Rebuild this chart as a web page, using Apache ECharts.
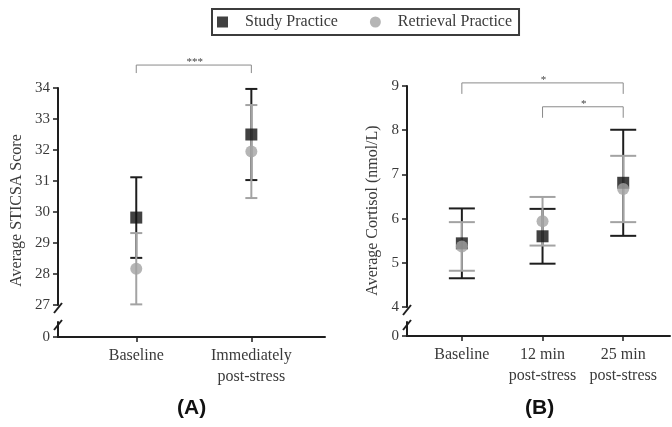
<!DOCTYPE html>
<html>
<head>
<meta charset="utf-8">
<script src="https://cdn.jsdelivr.net/npm/echarts@6/dist/echarts.min.js"></script>
<style>
html,body{margin:0;padding:0;background:#fff;}
#c{width:672px;height:427px;}
</style>
</head>
<body>
<div id="c"></div>
<script>
// ---- Data ----
const catsA = ['Baseline', 'Immediately\npost-stress'];
const studyA = [29.82, 32.50];
const studyErrA = [1.30, 1.47];
const retrA = [28.17, 31.95];
const retrErrA = [1.15, 1.50];
const ticksA = [27, 28, 29, 30, 31, 32, 33, 34];

const catsB = ['Baseline', '12 min\npost-stress', '25 min\npost-stress'];
const studyB = [5.44, 5.60, 6.81];
const studyErrB = [0.79, 0.62, 1.20];
const retrB = [5.37, 5.94, 6.67];
const retrErrB = [0.55, 0.55, 0.75];
const ticksB = [4, 5, 6, 7, 8, 9];

// significance comparisons: [fromIndex, toIndex, label]
const sigA = [[0, 1, '***']];
const sigB = [[0, 2, '*'], [1, 2, '*']];

// ---- Styles ----
const SERIF = 'Liberation Serif';
const DARK = '#1e1e1e';
const GRAY = '#a3a3a3';
const TXT = '#3a3a3a';

const chart = echarts.init(document.getElementById('c'), null, {renderer: 'canvas'});

function errSeries(name, xi, yi, means, errs, color, half, z) {
  return {
    type: 'custom', name: name, xAxisIndex: xi, yAxisIndex: yi, silent: true, clip: false, z: z,
    data: means.map((m, i) => [i, m - errs[i], m + errs[i]]),
    encode: {x: 0, y: [1, 2]},
    renderItem: function (params, api) {
      const x = api.value(0);
      const lo = api.coord([x, api.value(1)]);
      const hi = api.coord([x, api.value(2)]);
      const st = {stroke: color, lineWidth: 2};
      return {type: 'group', children: [
        {type: 'line', shape: {x1: lo[0], y1: lo[1], x2: hi[0], y2: hi[1]}, style: st},
        {type: 'line', shape: {x1: lo[0] - half, y1: lo[1], x2: lo[0] + half, y2: lo[1]}, style: st},
        {type: 'line', shape: {x1: hi[0] - half, y1: hi[1], x2: hi[0] + half, y2: hi[1]}, style: st}
      ]};
    }
  };
}

function sigSeries(xi, yi, sigs, levels, legDrop) {
  return {
    type: 'custom', xAxisIndex: xi, yAxisIndex: yi, silent: true, clip: false, z: 1,
    data: sigs.map((s, k) => [s[0], s[1], levels[k], s[2]]),
    renderItem: function (params, api) {
      const x1 = api.value(0), x2 = api.value(1), lv = api.value(2);
      const label = sigs[params.dataIndex][2];
      const p1 = api.coord([x1, lv]);
      const p2 = api.coord([x2, lv]);
      return {type: 'group', children: [
        {type: 'polyline', shape: {points: [[p1[0], p1[1] + legDrop], [p1[0], p1[1]], [p2[0], p2[1]], [p2[0], p2[1] + legDrop]]},
          style: {stroke: '#8a8a8a', lineWidth: 1, fill: null}},
        {type: 'text', x: (p1[0] + p2[0]) / 2 + 1, y: p1[1] - 3,
          style: {text: label, fill: '#444', font: '11px ' + SERIF, align: 'center', verticalAlign: 'middle'}}
      ]};
    }
  };
}

const yLabel = {color: TXT, fontFamily: SERIF, fontSize: 15, margin: 8};
const axisLineStyle = {color: DARK, width: 2};

function upperY(gi, min, max, ticks, name, gap) {
  return {
    type: 'value', gridIndex: gi, min: min, max: max, interval: 1,
    axisLine: {show: true, onZero: false, lineStyle: axisLineStyle},
    axisTick: {show: true, length: 5, lineStyle: {color: DARK, width: 1.5}, customValues: ticks},
    axisLabel: Object.assign({}, yLabel, {customValues: ticks}),
    splitLine: {show: false},
    name: name, nameLocation: 'middle', nameGap: gap,
    nameTextStyle: {color: TXT, fontFamily: SERIF, fontSize: 16, padding: [0, 28, 0, 0]}
  };
}
function lowerY(gi) {
  return {
    type: 'value', gridIndex: gi, min: 0, max: 1, interval: 1,
    axisLine: {show: true, onZero: false, lineStyle: axisLineStyle},
    axisTick: {show: true, length: 5, lineStyle: {color: DARK, width: 1.5}, customValues: [0]},
    axisLabel: Object.assign({}, yLabel, {customValues: [0]}),
    splitLine: {show: false}
  };
}
function hiddenX(gi, min, max) {
  return {type: 'value', gridIndex: gi, min: min, max: max, show: false, splitLine: {show: false}};
}
function lowerX(gi, min, max, cats) {
  const vals = cats.map((c, i) => i);
  return {
    type: 'value', gridIndex: gi, min: min, max: max,
    axisLine: {show: true, onZero: false, lineStyle: axisLineStyle},
    axisTick: {show: true, length: 5, lineStyle: {color: DARK, width: 1.5}, customValues: vals},
    axisLabel: {customValues: vals, formatter: v => cats[Math.round(v)], color: TXT,
      fontFamily: SERIF, fontSize: 16, lineHeight: 21, margin: 8},
    splitLine: {show: false}
  };
}

const option = {
  animation: false,
  backgroundColor: '#fff',
  legend: {
    left: 212, top: 9,
    data: [{name: 'Study Practice', icon: 'rect'}, {name: 'Retrieval Practice', icon: 'circle'}],
    itemWidth: 11, itemHeight: 11, itemGap: 32,
    padding: [5, 7, 5, 5],
    borderColor: '#3c3c3c', borderWidth: 2,
    textStyle: {color: TXT, fontFamily: SERIF, fontSize: 16, padding: [0, 0, 0, 12]},
    selectedMode: false
  },
  title: [
    {text: '(A)', left: 172, top: 393, textStyle: {fontFamily: 'Liberation Sans', fontWeight: 'bold', fontSize: 21, color: '#111'}},
    {text: '(B)', left: 520, top: 393, textStyle: {fontFamily: 'Liberation Sans', fontWeight: 'bold', fontSize: 21, color: '#111'}}
  ],
  grid: [
    {left: 58, top: 88, width: 267, height: 217},   // A upper
    {left: 58, top: 322, width: 267, height: 15},   // A lower
    {left: 407, top: 86, width: 263, height: 221},  // B upper
    {left: 407, top: 322, width: 263, height: 14}   // B lower
  ],
  xAxis: [
    hiddenX(0, -0.68, 1.64),
    lowerX(1, -0.68, 1.64, catsA),
    hiddenX(2, -0.68, 2.58),
    lowerX(3, -0.68, 2.58, catsB)
  ],
  yAxis: [
    upperY(0, 27, 34, ticksA, 'Average STICSA Score', 33),
    lowerY(1),
    upperY(2, 4, 9, ticksB, 'Average Cortisol (nmol/L)', 26),
    lowerY(3)
  ],
  series: [
    errSeries('errStudyA', 0, 0, studyA, studyErrA, DARK, 6, 2),
    {type: 'scatter', name: 'Study Practice', xAxisIndex: 0, yAxisIndex: 0, symbol: 'rect', symbolSize: 12,
      itemStyle: {color: '#111'}, data: studyA.map((v, i) => [i, v]), z: 2},
    errSeries('errRetrA', 0, 0, retrA, retrErrA, GRAY, 6, 2),
    {type: 'scatter', name: 'Retrieval Practice', xAxisIndex: 0, yAxisIndex: 0, symbol: 'circle', symbolSize: 12,
      itemStyle: {color: GRAY}, data: retrA.map((v, i) => [i, v]), z: 2},

    errSeries('errStudyB', 2, 2, studyB, studyErrB, DARK, 13, 2),
    {type: 'scatter', name: 'Study Practice', xAxisIndex: 2, yAxisIndex: 2, symbol: 'rect', symbolSize: 12,
      itemStyle: {color: '#111'}, data: studyB.map((v, i) => [i, v]), z: 2},
    errSeries('errRetrB', 2, 2, retrB, retrErrB, GRAY, 13, 2),
    {type: 'scatter', name: 'Retrieval Practice', xAxisIndex: 2, yAxisIndex: 2, symbol: 'circle', symbolSize: 12,
      itemStyle: {color: GRAY}, data: retrB.map((v, i) => [i, v]), z: 2},

    sigSeries(0, 0, sigA, [34.74], 8),
    sigSeries(2, 2, sigB, [9.07, 8.53], 11)
  ]
};
chart.setOption(option);

// axis break marks placed via the axes' own scales
function breakMarks() {
  const els = [];
  [[0, 1, 27], [2, 3, 4]].forEach(function (g) {
    const top = chart.convertToPixel({gridIndex: g[0]}, [-0.68, g[2]]);
    const bot = chart.convertToPixel({gridIndex: g[1]}, [-0.68, 1]);
    [[top[0], top[1] + 3], [bot[0], bot[1] + 3]].forEach(function (p) {
      els.push({type: 'line', shape: {x1: p[0] - 4, y1: p[1] + 5, x2: p[0] + 4, y2: p[1] - 5},
        style: {stroke: DARK, lineWidth: 2}});
    });
  });
  chart.setOption({graphic: els});
}
breakMarks();
</script>
</body>
</html>
